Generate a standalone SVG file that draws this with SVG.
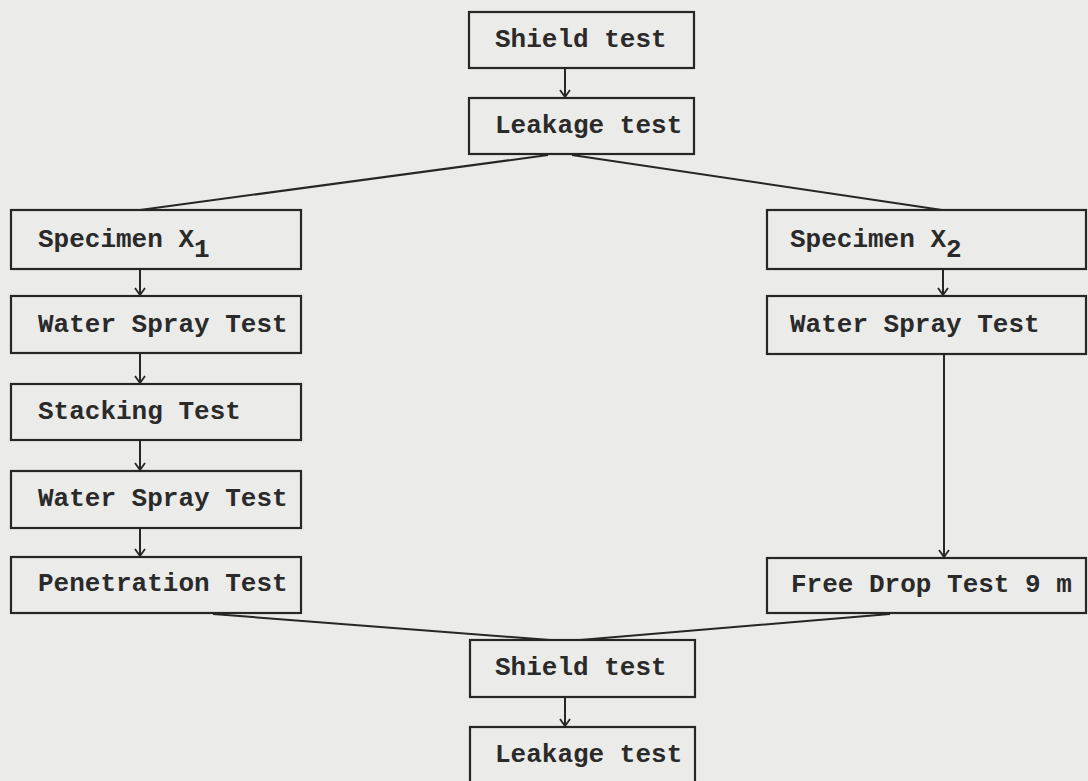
<svg xmlns="http://www.w3.org/2000/svg" width="1088" height="781" viewBox="0 0 1088 781">
<defs>
<style>
.bx{fill:#ebebe9;stroke:#262626;stroke-width:2.2}
.t{font-family:"Liberation Mono","Courier New",monospace;font-size:26px;font-weight:bold;fill:#2a2a2a}
.c{fill:none;stroke:#262626;stroke-width:2}
</style>
<marker id="ah" viewBox="0 0 12 12" refX="11" refY="6" markerWidth="12" markerHeight="12" markerUnits="userSpaceOnUse" orient="auto">
<path d="M4,1 L11,6 L4,11" fill="none" stroke="#262626" stroke-width="1.8"/>
</marker>
</defs>
<rect width="1088" height="781" fill="#ebebe9"/>
<g id="connectors">
<line class="c" x1="565" y1="68" x2="565" y2="97" marker-end="url(#ah)"/>
<path class="c" d="M548,155 L140,210"/>
<path class="c" d="M572,155 L942,210"/>
<line class="c" x1="140" y1="269" x2="140" y2="295" marker-end="url(#ah)"/>
<line class="c" x1="140" y1="353" x2="140" y2="383" marker-end="url(#ah)"/>
<line class="c" x1="140" y1="440" x2="140" y2="470" marker-end="url(#ah)"/>
<line class="c" x1="140" y1="528" x2="140" y2="556" marker-end="url(#ah)"/>
<line class="c" x1="943" y1="269" x2="943" y2="295" marker-end="url(#ah)"/>
<line class="c" x1="944" y1="354" x2="944" y2="557" marker-end="url(#ah)"/>
<path class="c" d="M213,614 Q420,630 550,640"/>
<path class="c" d="M890,614 Q720,628 580,640"/>
<line class="c" x1="565" y1="697" x2="565" y2="726" marker-end="url(#ah)"/>
</g>
<g id="shield1"><rect class="bx" x="469" y="12" width="225" height="56"/><text class="t" x="495" y="47">Shield test</text></g>
<g id="leak1"><rect class="bx" x="469" y="98" width="225" height="56"/><text class="t" x="495" y="133">Leakage test</text></g>
<g id="specX1"><rect class="bx" x="11" y="210" width="290" height="59"/><text class="t" x="38" y="247">Specimen X<tspan dy="10">1</tspan></text></g>
<g id="spray1"><rect class="bx" x="11" y="296" width="290" height="57"/><text class="t" x="38" y="332">Water Spray Test</text></g>
<g id="stack"><rect class="bx" x="11" y="384" width="290" height="56"/><text class="t" x="38" y="419">Stacking Test</text></g>
<g id="spray2"><rect class="bx" x="11" y="471" width="290" height="57"/><text class="t" x="38" y="506">Water Spray Test</text></g>
<g id="pen"><rect class="bx" x="11" y="557" width="290" height="56"/><text class="t" x="38" y="591">Penetration Test</text></g>
<g id="specX2"><rect class="bx" x="767" y="210" width="319" height="59"/><text class="t" x="790" y="247">Specimen X<tspan dy="10">2</tspan></text></g>
<g id="spray3"><rect class="bx" x="767" y="296" width="319" height="58"/><text class="t" x="790" y="332">Water Spray Test</text></g>
<g id="drop"><rect class="bx" x="767" y="558" width="319" height="55"/><text class="t" x="791" y="592">Free Drop Test 9 m</text></g>
<g id="shield2"><rect class="bx" x="470" y="640" width="225" height="57"/><text class="t" x="495" y="675">Shield test</text></g>
<g id="leak2"><rect class="bx" x="470" y="727" width="225" height="60"/><text class="t" x="495" y="762">Leakage test</text></g>
</svg>
